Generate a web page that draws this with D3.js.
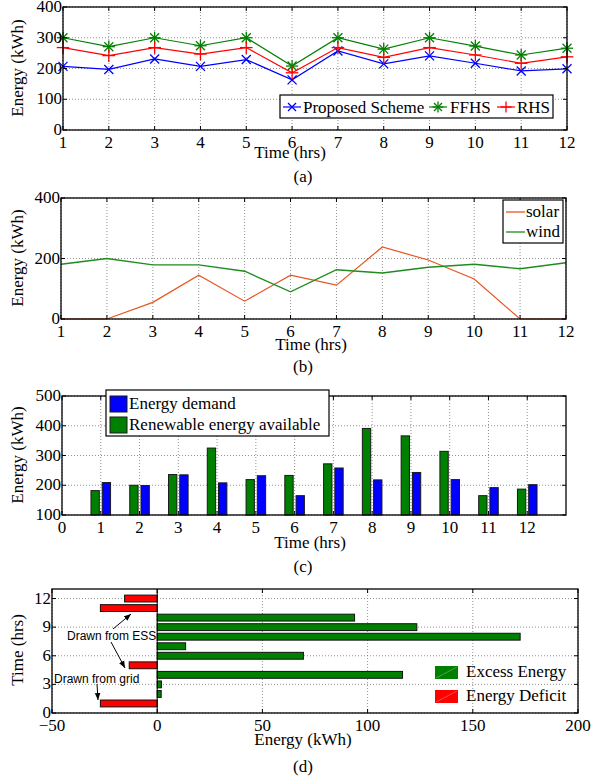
<!DOCTYPE html>
<html>
<head>
<meta charset="utf-8">
<script src="https://cdn.jsdelivr.net/npm/d3@7"></script>
<style>
body { margin: 0; background: #fff; }
text { font-family: "Liberation Serif", "Times New Roman", serif; fill: #000; }
.grid line { stroke: #777; stroke-dasharray: 1,2; stroke-width: 0.8; }
.ann { font-family: "Liberation Sans", Arial, sans-serif; font-size: 12px; }
</style>
</head>
<body>
<div id="chart"></div>
<script>
// ---- data ----
const hours = [1,2,3,4,5,6,7,8,9,10,11,12]

// (a) energy cost per scheme
const proposed = [207,197,231,207,229,163,257,215,241,217,192,199]
const ffhs     = [300,271,300,274,300,208,300,263,300,273,244,266]
const rhs      = [268,242,268,247,268,186,268,236,268,244,217,238]

// (b) renewable generation
const solar = [0,0,55,145,59,145,112,238,195,132,0,0]
const wind  = [181,200,179,179,158,90,163,152,171,181,166,186]

// (c) demand vs available
const demand    = [209,199,235,208,232,165,258,218,243,219,192,202]
const renewable = [182,200,236,325,219,233,272,391,366,314,165,187]

// (d) excess / deficit per hour
const balance = [-27,1.9,2,116.6,-13.3,69.5,13.5,172.5,123.4,93.8,-27,-15.5]

const W = 606, H = 780
const svg = d3.select("#chart").append("svg")
    .attr("width", W)
    .attr("height", H)

const FS = 17

function frame(g, x, y, xTicks, yTicks, xFmt, yFmt) {
    const [x0, x1] = x.range()
    const [y0, y1] = y.range()
    // grid
    const grid = g.append("g").attr("class", "grid")
    grid.selectAll(".gx").data(xTicks).enter().append("line")
        .attr("x1", d => x(d)).attr("x2", d => x(d))
        .attr("y1", y0).attr("y2", y1)
    grid.selectAll(".gy").data(yTicks).enter().append("line")
        .attr("x1", x0).attr("x2", x1)
        .attr("y1", d => y(d)).attr("y2", d => y(d))
    return function() {
        // box + inward ticks
        g.append("rect")
            .attr("x", x0).attr("y", y1)
            .attr("width", x1 - x0).attr("height", y0 - y1)
            .attr("fill", "none").attr("stroke", "#000").attr("stroke-width", 1.3)
        const t = g.append("g").attr("stroke", "#000")
        xTicks.forEach(d => {
            t.append("line").attr("x1", x(d)).attr("x2", x(d)).attr("y1", y0).attr("y2", y0 - 4)
            t.append("line").attr("x1", x(d)).attr("x2", x(d)).attr("y1", y1).attr("y2", y1 + 4)
        })
        yTicks.forEach(d => {
            t.append("line").attr("x1", x0).attr("x2", x0 + 4).attr("y1", y(d)).attr("y2", y(d))
            t.append("line").attr("x1", x1).attr("x2", x1 - 4).attr("y1", y(d)).attr("y2", y(d))
        })
        g.selectAll(".xl").data(xTicks).enter().append("text")
            .attr("x", d => x(d)).attr("y", y0 + 18)
            .attr("text-anchor", "middle").style("font-size", FS + "px")
            .text(xFmt || (d => d))
        g.selectAll(".yl").data(yTicks).enter().append("text")
            .attr("x", x0 - 1).attr("y", d => y(d) + 5)
            .attr("text-anchor", "end").style("font-size", FS + "px")
            .text(yFmt || (d => d))
    }
}

function ylabel(txt, cx, cy) {
    svg.append("text")
        .attr("transform", "translate(" + cx + "," + cy + ") rotate(-90)")
        .attr("text-anchor", "middle").style("font-size", FS + "px")
        .text(txt)
}
function label(txt, cx, by) {
    svg.append("text").attr("x", cx).attr("y", by)
        .attr("text-anchor", "middle").style("font-size", FS + "px")
        .text(txt)
}

// ---------- (a) ----------
{
    const x = d3.scaleLinear().domain([1,12]).range([63,567])
    const y = d3.scaleLinear().domain([0,400]).range([130,7])
    const g = svg.append("g")
    const close = frame(g, x, y, hours, [0,100,200,300,400])
    const line = d3.line().x((d,i) => x(hours[i])).y(d => y(d))
    const series = [
        {v: proposed, c: "#0000ff", m: "x"},
        {v: ffhs, c: "#008000", m: "*"},
        {v: rhs, c: "#ff0000", m: "+"}
    ]
    function marker(sel, m, c, s) {
        sel.each(function() {
            const p = d3.select(this)
            if (m === "x" || m === "*") {
                p.append("line").attr("x1", -s).attr("y1", -s).attr("x2", s).attr("y2", s)
                p.append("line").attr("x1", -s).attr("y1", s).attr("x2", s).attr("y2", -s)
            }
            if (m === "+" || m === "*") {
                const k = m === "*" ? 1.35 : 1.4
                p.append("line").attr("x1", -s*k).attr("y1", 0).attr("x2", s*k).attr("y2", 0)
                p.append("line").attr("x1", 0).attr("y1", -s*k).attr("x2", 0).attr("y2", s*k)
            }
        }).attr("stroke", c).attr("stroke-width", 1.3)
    }
    series.forEach(s => {
        g.append("path").datum(s.v).attr("d", line)
            .attr("fill", "none").attr("stroke", s.c).attr("stroke-width", 1.2)
        g.selectAll(null).data(s.v).enter().append("g")
            .attr("transform", (d,i) => "translate(" + x(hours[i]) + "," + y(d) + ")")
            .call(marker, s.m, s.c, 4.5)
    })
    close()
    // legend
    const lg = svg.append("g")
    lg.append("rect").attr("x", 280).attr("y", 95).attr("width", 273).attr("height", 23)
        .attr("fill", "#fff").attr("stroke", "#000").attr("stroke-width", 1.2)
    const items = [
        {name: "Proposed Scheme", x: 283, tx: 303},
        {name: "FFHS", x: 429, tx: 450},
        {name: "RHS", x: 497, tx: 517}
    ]
    items.forEach((it, i) => {
        const s = series[i]
        lg.append("line").attr("x1", it.x).attr("x2", it.x + 18).attr("y1", 107).attr("y2", 107)
            .attr("stroke", s.c).attr("stroke-width", 1.2)
        lg.append("g").attr("transform", "translate(" + (it.x + 9) + ",107)").call(marker, s.m, s.c, 4)
        lg.append("text").attr("x", it.tx).attr("y", 113).style("font-size", FS + "px").text(it.name)
    })
    ylabel("Energy (kWh)", 23, 68)
    label("Time (hrs)", 290, 158)
    label("(a)", 303, 182)
}

// ---------- (b) ----------
{
    const x = d3.scaleLinear().domain([1,12]).range([61,566])
    const y = d3.scaleLinear().domain([0,400]).range([319,198])
    const g = svg.append("g")
    const close = frame(g, x, y, hours, [0,200,400])
    const line = d3.line().x((d,i) => x(hours[i])).y(d => y(d))
    g.append("path").datum(solar).attr("d", line)
        .attr("fill", "none").attr("stroke", "#e8541c").attr("stroke-width", 1.2)
    g.append("path").datum(wind).attr("d", line)
        .attr("fill", "none").attr("stroke", "#1e8c1e").attr("stroke-width", 1.4)
    close()
    const lg = svg.append("g")
    lg.append("rect").attr("x", 503).attr("y", 200).attr("width", 60).attr("height", 43)
        .attr("fill", "#fff").attr("stroke", "#000").attr("stroke-width", 1.2)
    ;[["solar", "#e8541c", 212], ["wind", "#1e8c1e", 232]].forEach(d => {
        lg.append("line").attr("x1", 506).attr("x2", 525).attr("y1", d[2]).attr("y2", d[2])
            .attr("stroke", d[1]).attr("stroke-width", 1.3)
        lg.append("text").attr("x", 526).attr("y", d[2] + 5).style("font-size", FS + "px").text(d[0])
    })
    ylabel("Energy (kWh)", 23, 258)
    label("Time (hrs)", 311, 350)
    label("(b)", 303, 372)
}

// ---------- (c) ----------
{
    const x = d3.scaleLinear().domain([0,13]).range([62,566])
    const y = d3.scaleLinear().domain([100,500]).range([515,396])
    const g = svg.append("g")
    const close = frame(g, x, y, d3.range(0,13), [100,200,300,400,500])
    const bw = 0.215, off = 0.145
    const bars = [{v: renewable, c: "#008000", o: -off}, {v: demand, c: "#0000ff", o: off}]
    bars.forEach(b => {
        g.selectAll(null).data(b.v).enter().append("rect")
            .attr("x", (d,i) => x(hours[i] + b.o - bw/2))
            .attr("width", x(bw) - x(0))
            .attr("y", d => y(d))
            .attr("height", d => y(100) - y(d))
            .attr("fill", b.c).attr("stroke", "#1a1a1a").attr("stroke-width", 1)
    })
    close()
    const lg = svg.append("g")
    lg.append("rect").attr("x", 106).attr("y", 390).attr("width", 223).attr("height", 46)
        .attr("fill", "#fff").attr("stroke", "#000").attr("stroke-width", 1.2)
    ;[["Energy demand", "#0000ff", 403], ["Renewable energy available", "#008000", 424]].forEach(d => {
        lg.append("rect").attr("x", 110).attr("y", d[2] - 7).attr("width", 17).attr("height", 16)
            .attr("fill", d[1]).attr("stroke", "#1a1a1a")
        lg.append("text").attr("x", 129).attr("y", d[2] + 6).style("font-size", FS + "px").text(d[0])
    })
    ylabel("Energy (kWh)", 23, 455)
    label("Time (hrs)", 310, 548)
    label("(c)", 303, 572)
}

// ---------- (d) ----------
{
    const x = d3.scaleLinear().domain([-50,200]).range([52,578])
    const y = d3.scaleLinear().domain([0,13]).range([713,589])
    const g = svg.append("g")
    const close = frame(g, x, y, [-50,0,50,100,150,200], [0,3,6,9,12],
        d => d < 0 ? "\u2212" + (-d) : d)
    const bh = 0.72
    g.selectAll(null).data(balance).enter().append("rect")
        .attr("x", d => x(Math.min(0, d)))
        .attr("width", d => Math.abs(x(d) - x(0)))
        .attr("y", (d,i) => y(hours[i] + bh/2))
        .attr("height", y(0) - y(bh))
        .attr("fill", d => d < 0 ? "#ff0000" : "#008000")
        .attr("stroke", "#111").attr("stroke-width", 1)
    g.append("line").attr("x1", x(0)).attr("x2", x(0)).attr("y1", y(0)).attr("y2", y(13))
        .attr("stroke", "#000").attr("stroke-width", 1)
    close()
    // annotations
    const defs = svg.append("defs")
    defs.append("marker").attr("id", "arr").attr("viewBox", "0 0 10 10")
        .attr("refX", 10).attr("refY", 5).attr("markerWidth", 7).attr("markerHeight", 7)
        .attr("orient", "auto")
        .append("path").attr("d", "M0,1 L10,5 L0,9 Z").attr("fill", "#000")
    const arrows = [
        [113, 629, 131, 614],
        [111, 642, 125, 668],
        [97, 684, 98, 700]
    ]
    arrows.forEach(a => {
        svg.append("line").attr("x1", a[0]).attr("y1", a[1]).attr("x2", a[2]).attr("y2", a[3])
            .attr("stroke", "#000").attr("stroke-width", 1).attr("marker-end", "url(#arr)")
    })
    svg.append("text").attr("class", "ann").attr("x", 67).attr("y", 640).text("Drawn from ESS")
    svg.append("text").attr("class", "ann").attr("x", 54).attr("y", 683).text("Drawn from grid")
    // legend (no box)
    ;[["Excess Energy", "#008000", 666], ["Energy Deficit", "#ff0000", 690]].forEach(d => {
        svg.append("rect").attr("x", 435).attr("y", d[2]).attr("width", 23).attr("height", 13)
            .attr("fill", d[1])
        svg.append("line").attr("x1", 436).attr("y1", d[2] + 12).attr("x2", 457).attr("y2", d[2] + 1)
            .attr("stroke", "#fff").attr("stroke-opacity", 0.35).attr("stroke-width", 0.8)
        svg.append("text").attr("x", 466).attr("y", d[2] + 11).style("font-size", FS + "px").text(d[0])
    })
    ylabel("Time (hrs)", 23, 650)
    label("Energy (kWh)", 303, 745)
    label("(d)", 303, 772)
}
</script>
</body>
</html>
